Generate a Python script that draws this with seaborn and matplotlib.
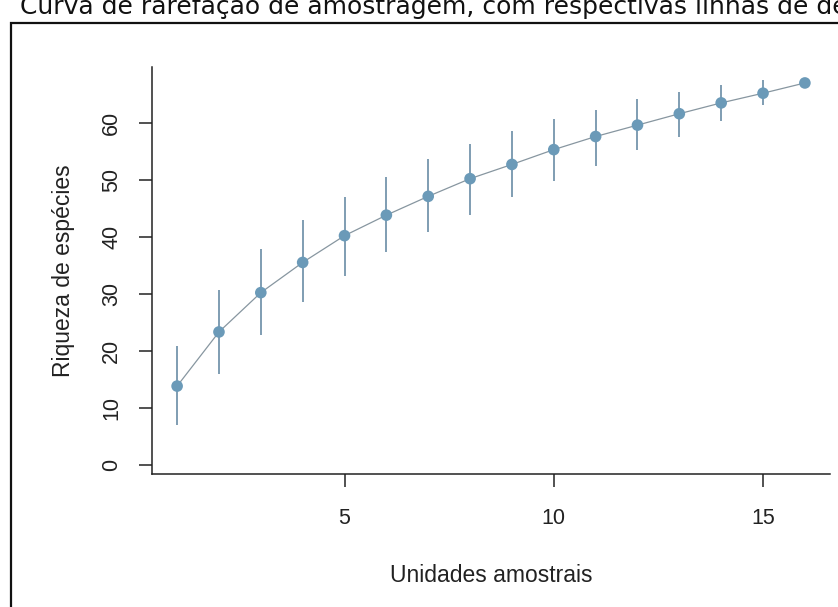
import matplotlib
matplotlib.use("Agg")
import matplotlib.pyplot as plt
from matplotlib.patches import Rectangle
import seaborn as sns
import pandas as pd

units = [1, 2, 3, 4, 5, 6, 7, 8, 9, 10, 11, 12, 13, 14, 15, 16]
richness = [13.8, 23.3, 30.2, 35.5, 40.2, 43.8, 47.1, 50.2, 52.7, 55.3, 57.6, 59.6, 61.6, 63.5, 65.2, 67.0]
lower = [6.9, 16.0, 22.8, 28.6, 33.2, 37.3, 40.8, 43.9, 47.0, 49.8, 52.4, 55.2, 57.6, 60.3, 63.2, 67.0]
upper = [20.8, 30.7, 37.8, 42.9, 47.0, 50.5, 53.6, 56.2, 58.5, 60.6, 62.3, 64.1, 65.4, 66.7, 67.6, 67.0]
x_ticks = [5, 10, 15]
y_ticks = [0, 10, 20, 30, 40, 50, 60]
title = "Curva de rarefação de amostragem, com respectivas linhas de desvio padrão"
xlabel = "Unidades amostrais"
ylabel = "Riqueza de espécies"

df = pd.DataFrame({"x": units, "y": richness, "lo": lower, "hi": upper})

sns.set_style("white")
plt.rcParams["font.family"] = ["Liberation Sans", "DejaVu Sans"]

W, H = 838, 607
fig = plt.figure(figsize=(W / 100, H / 100), dpi=100)
ax = fig.add_axes([152 / W, 1 - 474 / H, (830 - 152) / W, (474 - 67) / H])

point_col = "#6b9ab8"
bar_col = "#7f9db2"
line_col = "#8796a0"

ax.vlines(df["x"], df["lo"], df["hi"], color=bar_col, lw=1.4, zorder=2)
sns.lineplot(data=df, x="x", y="y", ax=ax, color=line_col, lw=0.9, zorder=3)
sns.scatterplot(data=df, x="x", y="y", ax=ax, color=point_col, s=70,
                edgecolor="none", zorder=4)

ax.set_xlim(0.4, 16.6)
ax.set_ylim(-1.63, 69.8)
ax.set_xticks(x_ticks)
ax.set_yticks(y_ticks)
ax.set_xticklabels([str(t) for t in x_ticks], fontsize=15.5)
ax.set_yticklabels([str(t) for t in y_ticks], fontsize=15.5, rotation=90, va="center")
ax.tick_params(axis="both", direction="out", length=9.5, width=1.1, color="#222222",
               bottom=True, left=True)
ax.tick_params(axis="x", pad=15)
ax.tick_params(axis="y", pad=12)
for s in ["top", "right"]:
    ax.spines[s].set_visible(False)
for s in ["left", "bottom"]:
    ax.spines[s].set_color("#222222")
    ax.spines[s].set_linewidth(1.1)
ax.set_xlabel(xlabel, fontsize=16.5, labelpad=25, color="#222222")
ax.set_ylabel(ylabel, fontsize=16.5, labelpad=19, color="#222222")
for lab in ax.get_xticklabels() + ax.get_yticklabels():
    lab.set_color("#222222")

# outer frame (cropped screenshot border)
fig.patches.append(Rectangle((10.5 / W, -0.05), 1.2, 1 - 22.5 / H + 0.05,
                             transform=fig.transFigure, fill=False,
                             edgecolor="#111111", lw=1.6))
fig.text(20 / W, 1 - 14 / H, title, fontsize=18, va="baseline", ha="left",
         family=["DejaVu Sans"], color="#111111")

fig.savefig("out.png", dpi=100, facecolor="white")
